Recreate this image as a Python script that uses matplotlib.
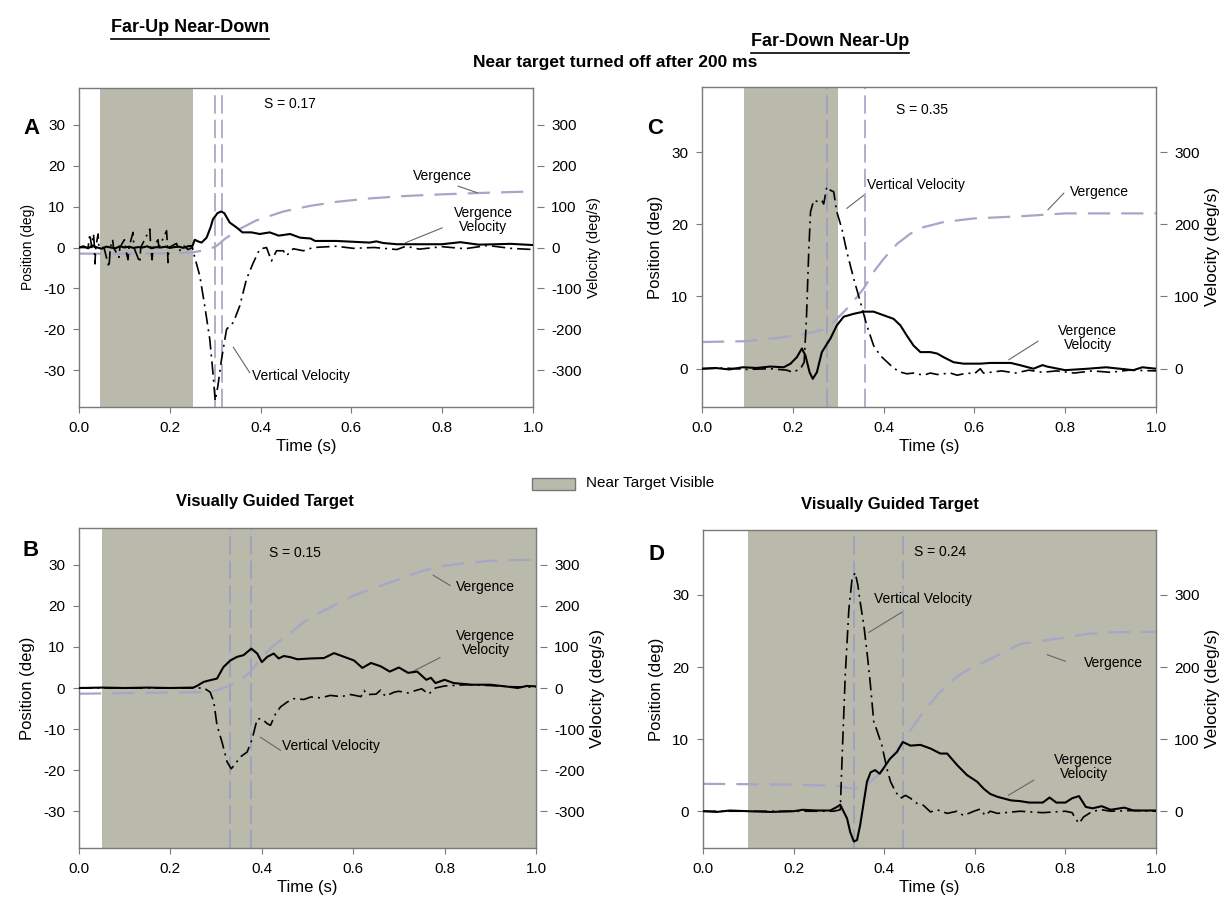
import matplotlib
matplotlib.use("Agg")
import matplotlib.pyplot as plt
from matplotlib.patches import Rectangle
from matplotlib.lines import Line2D

plt.rcParams['font.family'] = ['Liberation Sans', 'DejaVu Sans']

# ---------------- data ----------------
# Panel A (Far-Up Near-Down, near target off after 200 ms)
A_verg_t = [0, 0.10, 0.20, 0.25, 0.27, 0.29, 0.30, 0.31, 0.32, 0.35, 0.39, 0.45, 0.51, 0.57, 0.64, 0.72, 0.80, 0.90, 1.0]
A_verg = [-1.5, -1.5, -1.4, -1.2, -0.8, -0.2, 0.2, 1.0, 2.0, 4.3, 6.6, 8.8, 10.2, 11.2, 12.0, 12.6, 13.0, 13.4, 13.7]
A_vv_t = [0.0, 0.01, 0.02, 0.03, 0.04, 0.05, 0.06, 0.07, 0.08, 0.09, 0.10, 0.11, 0.12, 0.13, 0.14, 0.15, 0.16,
          0.17, 0.18, 0.19, 0.20, 0.21, 0.22, 0.23, 0.24, 0.25, 0.255, 0.262, 0.27, 0.281, 0.29, 0.295, 0.305,
          0.313, 0.32, 0.332, 0.347, 0.36, 0.38, 0.398, 0.42, 0.44, 0.465, 0.487, 0.51, 0.52, 0.567, 0.604,
          0.64, 0.655, 0.67, 0.70, 0.75, 0.80, 0.84, 0.88, 0.92, 0.95, 1.0]
A_vv = [0, 3, -2, 5, 0, -3, 2, 0, -2, 3, 0, 2, -1, 1, 0, 3, -2, 1, 0, 2, -1, 1, 2, -1, 3, 4, 19, 15, 12, 24,
        50, 69, 84, 88, 84, 61, 49, 37, 37, 33, 37, 29, 33, 24, 22, 16, 16, 14, 12, 15, 11, 8, 8, 8, 13, 7, 8, 9, 6]
A_vert_t = [0.0, 0.02, 0.024, 0.028, 0.032, 0.034, 0.035, 0.037, 0.042, 0.044, 0.055, 0.066, 0.069, 0.074,
            0.076, 0.088, 0.09, 0.10, 0.102, 0.108, 0.11, 0.119, 0.121, 0.134, 0.136, 0.156, 0.158, 0.161,
            0.163, 0.174, 0.176, 0.193, 0.195, 0.196, 0.198, 0.215, 0.22, 0.23, 0.24, 0.25, 0.251, 0.266,
            0.277, 0.288, 0.295, 0.300, 0.306, 0.314, 0.325, 0.34, 0.354, 0.369, 0.384, 0.398, 0.413, 0.424,
            0.435, 0.45, 0.457, 0.472, 0.494, 0.516, 0.567, 0.604, 0.65, 0.70, 0.72, 0.75, 0.80, 0.85, 0.90,
            0.95, 1.0]
A_vert = [0, 0, 33, 0, 33, 0, -40, 0, 33, 0, 0, -49, 0, 19, 0, -24, 0, 19, 0, -30, 0, 37, 0, -37, 0, 45, 0,
          -30, 0, 19, 0, 41, 0, -37, 0, 10, -10, 5, -5, 0, -8, -69, -143, -224, -306, -375, -338, -273, -200,
          -183, -143, -77, -37, -4, 0, -33, -8, -8, -20, -3, -8, 0, 3, -2, 0, -5, 3, -4, 2, -3, 5, -2, -5]
A_lines = [0.300, 0.314]
A_shade = (0.047, 0.25)

# Panel C (Far-Down Near-Up, near target off after 200 ms)
C_verg_t = [0, 0.092, 0.158, 0.217, 0.246, 0.275, 0.297, 0.319, 0.341, 0.356, 0.378, 0.40, 0.43, 0.459,
            0.488, 0.532, 0.598, 0.70, 0.80, 0.90, 1.0]
C_verg = [3.7, 3.8, 4.2, 4.7, 5.1, 5.5, 6.9, 8.3, 9.9, 11.1, 13.4, 15.2, 17.3, 18.7, 19.6, 20.3, 20.8, 21.1,
          21.5, 21.5, 21.5]
C_vv_t = [0, 0.03, 0.06, 0.09, 0.12, 0.15, 0.18, 0.195, 0.209, 0.22, 0.228, 0.237, 0.244, 0.253, 0.264, 0.283,
          0.297, 0.312, 0.334, 0.356, 0.378, 0.40, 0.422, 0.437, 0.451, 0.466, 0.481, 0.503, 0.518, 0.532,
          0.554, 0.576, 0.613, 0.635, 0.68, 0.70, 0.73, 0.75, 0.76, 0.80, 0.85, 0.89, 0.95, 0.97, 1.0]
C_vv = [0, 1, -1, 2, 1, 3, 2, 7, 16, 28, 18, -5, -14, -5, 23, 42, 60, 72, 76, 79, 79, 74, 69, 60, 46, 32, 23,
        23, 21, 16, 9, 7, 7, 8, 8, 5, 0, 5, 3, -2, 0, 2, -2, 2, 0]
C_vert_t = [0, 0.05, 0.10, 0.15, 0.187, 0.20, 0.217, 0.225, 0.23, 0.235, 0.239, 0.246, 0.257, 0.264, 0.268,
            0.275, 0.283, 0.29, 0.297, 0.308, 0.319, 0.334, 0.349, 0.363, 0.378, 0.393, 0.415, 0.433, 0.451,
            0.466, 0.488, 0.503, 0.518, 0.547, 0.562, 0.584, 0.60, 0.613, 0.62, 0.635, 0.66, 0.69, 0.72,
            0.75, 0.78, 0.82, 0.86, 0.90, 0.94, 1.0]
C_vert = [0, 1, -1, 0, -2, -5, 0, 9, 69, 160, 217, 233, 231, 233, 228, 252, 247, 245, 217, 194, 162, 125, 92,
          60, 32, 18, 5, -4, -7, -6, -9, -6, -8, -6, -9, -6, -7, 0, -6, -5, -3, -6, -2, -5, -3, -6, -3, -5,
          -2, -3]
C_lines = [0.275, 0.358]
C_shade = (0.092, 0.30)

# Panel B (Far-Up Near-Down, visually guided)
B_verg_t = [0, 0.273, 0.302, 0.33, 0.353, 0.375, 0.397, 0.426, 0.456, 0.492, 0.529, 0.566, 0.602, 0.632,
            0.70, 0.75, 0.80, 0.85, 0.90, 1.0]
B_verg = [-1.4, -1.0, -0.6, 0.6, 1.9, 3.9, 7.2, 10.4, 12.8, 16.1, 18.5, 20.6, 22.6, 23.8, 26.5, 28.5, 29.8,
          30.5, 31.0, 31.3]
B_vv_t = [0, 0.05, 0.10, 0.15, 0.20, 0.25, 0.258, 0.273, 0.287, 0.302, 0.316, 0.331, 0.346, 0.36, 0.377, 0.39,
          0.40, 0.412, 0.426, 0.437, 0.448, 0.463, 0.478, 0.507, 0.536, 0.558, 0.58, 0.602, 0.62, 0.639,
          0.66, 0.68, 0.70, 0.72, 0.74, 0.76, 0.77, 0.78, 0.80, 0.82, 0.86, 0.90, 0.94, 0.96, 0.98, 1.0]
B_vv = [0, 1, 0, 1, 0, 1, 5, 15, 19, 23, 51, 67, 76, 80, 96, 84, 63, 76, 84, 72, 78, 75, 70, 72, 73, 85, 76,
        67, 49, 61, 53, 40, 50, 37, 40, 20, 25, 12, 20, 12, 8, 8, 3, 0, 5, 4]
B_vert_t = [0, 0.10, 0.20, 0.273, 0.287, 0.295, 0.302, 0.313, 0.324, 0.333, 0.342, 0.353, 0.368, 0.379, 0.39,
            0.40, 0.412, 0.419, 0.43, 0.441, 0.456, 0.47, 0.492, 0.507, 0.529, 0.55, 0.573, 0.595, 0.617,
            0.624, 0.63, 0.65, 0.66, 0.67, 0.69, 0.70, 0.72, 0.74, 0.75, 0.765, 0.78, 0.80, 0.85, 0.90,
            0.95, 1.0]
B_vert = [0, 0, 0, 0, -10, -34, -91, -132, -180, -197, -185, -168, -156, -124, -75, -75, -87, -91, -63, -46,
          -34, -26, -28, -22, -24, -18, -21, -16, -21, -6, -16, -15, -5, -20, -10, -8, -12, -5, -2, -15, 0,
          5, 8, 6, 3, 2]
B_lines = [0.331, 0.3755]
B_shade = (0.05, 1.0)

# Panel D (Far-Down Near-Up, visually guided)
D_verg_t = [0, 0.193, 0.296, 0.333, 0.355, 0.377, 0.40, 0.42, 0.443, 0.465, 0.487, 0.517, 0.546, 0.575,
            0.605, 0.634, 0.70, 0.80, 0.85, 0.90, 1.0]
D_verg = [3.8, 3.7, 3.5, 3.1, 3.3, 4.5, 5.9, 7.8, 9.8, 11.9, 13.8, 16.1, 17.9, 19.3, 20.2, 21.1, 23.2, 24.1,
          24.6, 24.8, 24.9]
D_vv_t = [0, 0.03, 0.06, 0.10, 0.15, 0.20, 0.22, 0.25, 0.281, 0.296, 0.303, 0.31, 0.318, 0.325, 0.333, 0.34,
          0.347, 0.355, 0.362, 0.37, 0.38, 0.39, 0.40, 0.413, 0.428, 0.441, 0.458, 0.48, 0.502, 0.524, 0.539,
          0.561, 0.583, 0.605, 0.62, 0.634, 0.65, 0.68, 0.70, 0.72, 0.75, 0.765, 0.78, 0.80, 0.815, 0.83,
          0.845, 0.86, 0.88, 0.90, 0.93, 0.95, 1.0]
D_vv = [0, -1, 1, 0, -1, 0, 2, 1, 1, 6, 9, 0, -10, -29, -42, -40, -19, 13, 41, 54, 57, 52, 61, 73, 82, 96, 91,
        92, 87, 80, 80, 64, 50, 41, 31, 24, 20, 15, 14, 12, 12, 19, 12, 12, 18, 21, 6, 4, 7, 2, 5, 1, 1]
D_vert_t = [0, 0.10, 0.20, 0.288, 0.303, 0.307, 0.314, 0.322, 0.329, 0.336, 0.342, 0.347, 0.355, 0.362,
            0.369, 0.377, 0.384, 0.395, 0.406, 0.414, 0.425, 0.436, 0.447, 0.458, 0.472, 0.487, 0.502, 0.517,
            0.539, 0.561, 0.575, 0.598, 0.612, 0.623, 0.634, 0.65, 0.70, 0.75, 0.80, 0.815, 0.82, 0.83,
            0.84, 0.86, 0.88, 0.90, 0.95, 1.0]
D_vert = [0, 0, 0, 0, 2, 73, 188, 280, 322, 331, 313, 290, 258, 221, 179, 124, 112, 91, 59, 41, 27, 18, 22,
          18, 11, 8, -1, 2, -3, 0, -6, 0, 3, -6, 0, -3, 0, -2, 0, -2, -8, -17, -8, 0, 2, 0, 1, 0]
D_lines = [0.334, 0.441]
D_shade = (0.10, 1.0)

x_ticks = [0.0, 0.2, 0.4, 0.6, 0.8, 1.0]

# ---------------- style ----------------
W, H = 1226, 908
SHADE = '#b9b9ac'
VERG_C = '#a6a6c8'
VLINE_C = '#9a9ac0'
SPINE_C = '#7a7a7a'

fig = plt.figure(figsize=(W / 100, H / 100), dpi=100)


def px_rect(l, t, r, b):
    return [l / W, 1 - b / H, (r - l) / W, (b - t) / H]


def panel(rect, ylim, yticks, vticks, shade, lines, verg_t, verg, vv_t, vv, vert_t, vert,
          letter, letter_xy, ylab_size):
    ax = fig.add_axes(rect)
    ax.set_xlim(0, 1)
    ax.set_ylim(*ylim)
    ax.axvspan(shade[0], shade[1], color=SHADE, zorder=0, lw=0)
    for xl in lines:
        ax.axvline(xl, color=VLINE_C, lw=1.1, dashes=(12, 4), zorder=1)
    ax.plot(verg_t, verg, color=VERG_C, lw=1.6, dashes=(10, 5), zorder=2)
    ax.set_xticks(x_ticks)
    ax.set_xticklabels([f"{v:.1f}" for v in x_ticks])
    ax.set_yticks(yticks)
    ax.set_yticklabels([str(v) for v in yticks])
    ax.tick_params(direction='out', length=4, width=0.8, color=SPINE_C, labelsize=11, pad=6)
    for s in ax.spines.values():
        s.set_color(SPINE_C)
        s.set_linewidth(1.0)
    ax.set_xlabel('Time (s)', fontsize=12, labelpad=3)
    ax.set_ylabel('Position (deg)', fontsize=ylab_size, labelpad=6)

    ax2 = ax.twinx()
    ax2.set_ylim(ylim[0] * 10, ylim[1] * 10)
    ax2.plot(vv_t, vv, color='black', lw=1.5, zorder=4)
    ax2.plot(vert_t, vert, color='black', lw=1.2, dashes=(8, 3, 1.2, 3), zorder=3)
    ax2.set_yticks(vticks)
    ax2.set_yticklabels([str(v) for v in vticks])
    ax2.spines['right'].set_position(('outward', 3))
    ax2.spines['right'].set_visible(False)
    for k in ('left', 'top', 'bottom'):
        ax2.spines[k].set_visible(False)
    ax2.tick_params(direction='out', length=5, width=0.8, color=SPINE_C, labelsize=11, pad=5)
    ax2.set_ylabel('Velocity (deg/s)', fontsize=ylab_size + 0.5, labelpad=4)
    ax2.set_xlim(0, 1)
    fig.text(letter_xy[0] / W, 1 - letter_xy[1] / H, letter, fontsize=16, fontweight='bold',
             ha='center', va='center')
    return ax, ax2


def note(ax, txt, xy, ha='center', leader=None):
    ax.text(xy[0], xy[1], txt, fontsize=10, ha=ha, va='center', zorder=6, linespacing=1.0)
    if leader is not None:
        ax.plot([leader[0], leader[2]], [leader[1], leader[3]], color='#666666', lw=0.8, zorder=6)


# Panel A
axA, axA2 = panel(px_rect(79, 88, 533, 407), (-39, 39), [-30, -20, -10, 0, 10, 20, 30],
                  [-300, -200, -100, 0, 100, 200, 300], A_shade, A_lines, A_verg_t, A_verg,
                  A_vv_t, A_vv, A_vert_t, A_vert, 'A', (31, 128), 10)
note(axA, 'S = 0.17', (0.465, 35.2))
note(axA, 'Vergence', (0.80, 17.6), leader=(0.835, 15.0, 0.877, 13.4))
note(axA, 'Vergence\nVelocity', (0.89, 6.8), leader=(0.80, 4.8, 0.72, 1.2))
note(axA, 'Vertical Velocity', (0.38, -31.4), ha='left', leader=(0.34, -24.4, 0.376, -30.6))

# Panel C
axC, axC2 = panel(px_rect(702, 87, 1156, 407), (-5.3, 39), [0, 10, 20, 30], [0, 100, 200, 300],
                  C_shade, C_lines, C_verg_t, C_verg, C_vv_t, C_vv, C_vert_t, C_vert, 'C', (655, 128), 12)
note(axC, 'S = 0.35', (0.485, 35.8))
note(axC, 'Vertical Velocity', (0.363, 25.4), ha='left', leader=(0.356, 24.0, 0.319, 22.2))
note(axC, 'Vergence', (0.875, 24.4), leader=(0.797, 24.3, 0.762, 22.0))
note(axC, 'Vergence\nVelocity', (0.85, 4.3), leader=(0.74, 3.8, 0.676, 1.25))

# Panel B
axB, axB2 = panel(px_rect(79, 528, 536, 848), (-39, 39), [-30, -20, -10, 0, 10, 20, 30],
                  [-300, -200, -100, 0, 100, 200, 300], B_shade, B_lines, B_verg_t, B_verg,
                  B_vv_t, B_vv, B_vert_t, B_vert, 'B', (31, 550), 12)
note(axB, 'S = 0.15', (0.472, 32.8))
note(axB, 'Vergence', (0.89, 24.5), leader=(0.775, 27.5, 0.812, 25.0))
note(axB, 'Vergence\nVelocity', (0.89, 11.0), leader=(0.79, 7.4, 0.73, 4.0))
note(axB, 'Vertical Velocity', (0.445, -14.1), ha='left', leader=(0.397, -12.0, 0.441, -15.2))

# Panel D
axD, axD2 = panel(px_rect(703, 530, 1156, 848), (-5.1, 39), [0, 10, 20, 30], [0, 100, 200, 300],
                  D_shade, D_lines, D_verg_t, D_verg, D_vv_t, D_vv, D_vert_t, D_vert, 'D', (656, 555), 12)
note(axD, 'S = 0.24', (0.524, 35.9))
note(axD, 'Vertical Velocity', (0.377, 29.5), ha='left', leader=(0.439, 27.6, 0.366, 24.8))
note(axD, 'Vergence', (0.905, 20.6), leader=(0.80, 20.8, 0.76, 21.7))
note(axD, 'Vergence\nVelocity', (0.84, 6.2), leader=(0.73, 4.3, 0.674, 2.2))

# ---------------- titles ----------------
t1 = fig.text(190 / W, 1 - 28 / H, 'Far-Up Near-Down', fontsize=13, fontweight='bold',
              ha='center', va='center')
t2 = fig.text(830 / W, 1 - 42 / H, 'Far-Down Near-Up', fontsize=13, fontweight='bold',
              ha='center', va='center')
fig.text(615 / W, 1 - 63 / H, 'Near target turned off after 200 ms', fontsize=12.5, fontweight='bold',
         ha='center', va='center')
fig.text(265 / W, 1 - 502 / H, 'Visually Guided Target', fontsize=12, fontweight='bold',
         ha='center', va='center')
fig.text(890 / W, 1 - 505 / H, 'Visually Guided Target', fontsize=12, fontweight='bold',
         ha='center', va='center')

# legend for shading
fig.patches.append(Rectangle((532 / W, 1 - 490 / H), 43 / W, 12 / H, transform=fig.transFigure,
                             facecolor=SHADE, edgecolor='#777777', lw=1.0))
fig.text(586 / W, 1 - 483 / H, 'Near Target Visible', fontsize=11, ha='left', va='center')

# underline the two condition titles
fig.canvas.draw()
r = fig.canvas.get_renderer()
for t in (t1, t2):
    bb = t.get_window_extent(renderer=r).transformed(fig.transFigure.inverted())
    y = bb.y0 - 2 / H
    fig.lines.append(Line2D([bb.x0, bb.x1], [y, y], transform=fig.transFigure, color='black', lw=1.2))

fig.savefig('out.png', dpi=100)
